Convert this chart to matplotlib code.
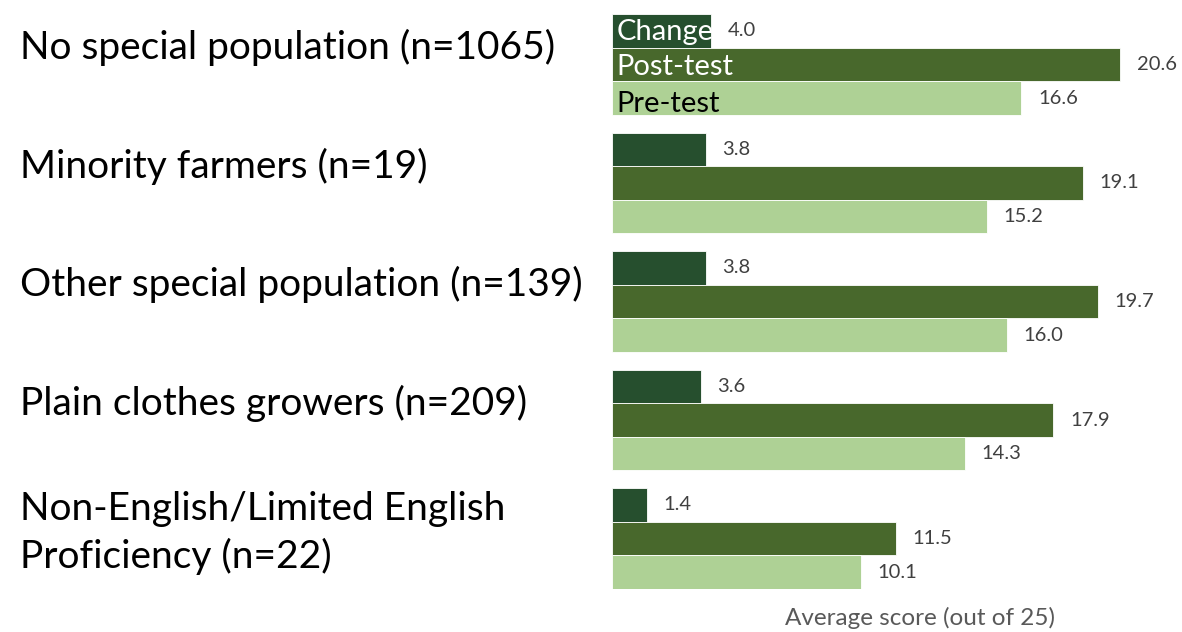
import numpy as np
import matplotlib.pyplot as plt

plt.rcParams['font.family'] = ['Lato', 'DejaVu Sans']

groups = ["No special population (n=1065)", "Minority farmers (n=19)",
          "Other special population (n=139)", "Plain clothes growers (n=209)",
          "Non-English/Limited English\nProficiency (n=22)"]
series = ["Change", "Post-test", "Pre-test"]
change = [4.0, 3.8, 3.8, 3.6, 1.4]
post = [20.6, 19.1, 19.7, 17.9, 11.5]
pre = [16.6, 15.2, 16.0, 14.3, 10.1]

colors = ["#264f2e", "#48682c", "#aed195"]
inner_text = ["white", "white", "black"]

fig = plt.figure(figsize=(11.82, 6.32), dpi=100)
ax = fig.add_axes([612 / 1182, 43 / 632, 570 / 1182, 575 / 632])

h = 0.284
y = np.arange(len(groups))
for k, vals in enumerate([change, post, pre]):
    yy = y + (k - 1) * h
    ax.barh(yy, vals, height=h, color=colors[k], edgecolor="white", linewidth=0.6)
    for yi, v in zip(yy, vals):
        ax.annotate(f"{v:.1f}", (v, yi), xytext=(12, 0), textcoords="offset points",
                    ha="left", va="center", fontsize=14.5, color="#404040")
    # series name written inside the first group's bars
    ax.annotate(series[k], (0, yy[0]), xytext=(3, [-1, -2, -4][k]),
                textcoords="offset points", ha="left", va="center",
                fontsize=21, color=inner_text[k])

ax.set_xlim(0, 570 / 24.66)
ax.set_ylim(len(groups) - 1 + 1.5 * h, -1.5 * h)
ax.set_xticks([])
ax.set_yticks([])
for s in ax.spines.values():
    s.set_visible(False)

trans = plt.matplotlib.transforms.blended_transform_factory(fig.transFigure, ax.transData)
for yi, g in zip(y, groups):
    shift = 0.05 if "\n" in g else 0.14
    ax.text(20 / 1182, yi - shift, g, transform=trans, ha="left", va="center",
            fontsize=28, color="black", linespacing=1.36)

fig.text(920 / 1182, 14 / 632, "Average score (out of 25)", ha="center", va="center",
         fontsize=17.5, color="#595959")

fig.savefig("out.png", dpi=100)
